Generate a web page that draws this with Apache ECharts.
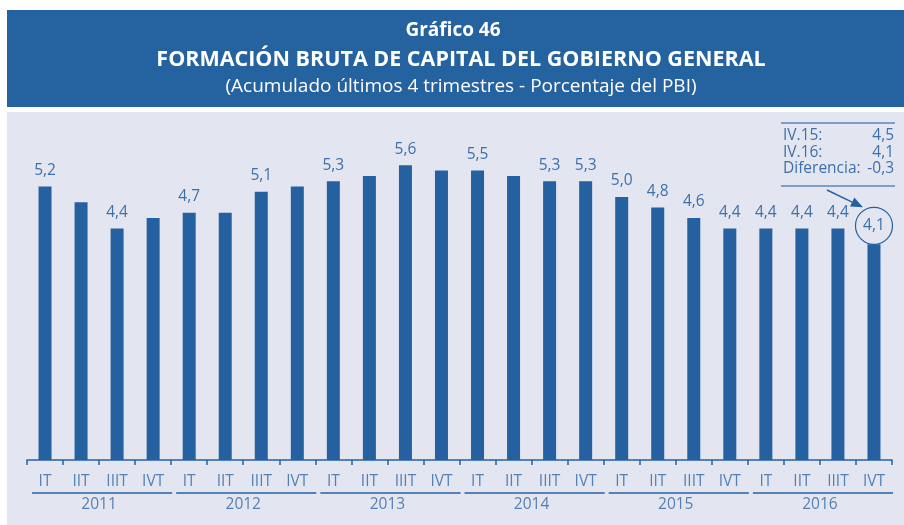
<!DOCTYPE html>
<html>
<head>
<meta charset="utf-8">
<script src="https://cdn.jsdelivr.net/npm/echarts@6/dist/echarts.min.js"></script>
<style>
  html, body { margin: 0; padding: 0; background: #ffffff; }
  #chart { width: 904px; height: 525px; }
</style>
</head>
<body>
<div id="chart"></div>
<script>
// Formación bruta de capital del gobierno general, % del PBI (acumulado 4 trimestres)
const years = ['2011', '2012', '2013', '2014', '2015', '2016'];
const quarters = ['IT', 'IIT', 'IIIT', 'IVT'];
const values = [
  5.2, 4.9, 4.4, 4.6,
  4.7, 4.7, 5.1, 5.2,
  5.3, 5.4, 5.6, 5.5,
  5.5, 5.4, 5.3, 5.3,
  5.0, 4.8, 4.6, 4.4,
  4.4, 4.4, 4.4, 4.1
];
// which bars carry a value label
const labelled = [
  1, 0, 1, 0,
  1, 0, 1, 0,
  1, 0, 1, 0,
  1, 0, 1, 1,
  1, 1, 1, 1,
  1, 1, 1, 1
];
const noteRows = [['IV.15:', '4,5'], ['IV.16:', '4,1'], ['Diferencia:', '-0,3']];

const BLUE = '#2561a0';
const TEXT = '#3d70aa';
const AXISTXT = '#5580b5';
const FONT = '"Open Sans", "Noto Sans", sans-serif';

const categories = [];
years.forEach(y => quarters.forEach(q => categories.push(q)));
const last = values.length - 1;
const fmt = v => v.toFixed(1).replace('.', ',');

const chart = echarts.init(document.getElementById('chart'), null, { renderer: 'canvas' });

const barData = values.map((v, i) => {
  const item = { value: v };
  if (!labelled[i]) {
    item.label = { show: false };
  } else if (i === last) {
    item.label = {
      show: true,
      width: 37, height: 37, padding: 0,
      lineHeight: 37,
      borderRadius: 18.5,
      borderWidth: 1.2,
      borderColor: BLUE,
      distance: 0,
      align: 'center'
    };
  }
  return item;
});

chart.setOption({
  backgroundColor: '#ffffff',
  animation: false,
  graphic: [
    { type: 'rect', shape: { x: 7, y: 10, width: 897, height: 97 }, style: { fill: '#2562a0' }, z: -10 },
    { type: 'rect', shape: { x: 7, y: 112, width: 897, height: 413 }, style: { fill: '#e3e6f1' }, z: -10 },
    { type: 'text', x: 453, y: 31, style: { text: 'Gráfico 46', fill: '#ffffff', font: 'bold 19px ' + FONT, align: 'center', verticalAlign: 'middle' } },
    { type: 'text', x: 461, y: 60, style: { text: 'FORMACIÓN BRUTA DE CAPITAL DEL GOBIERNO GENERAL', fill: '#ffffff', font: 'bold 21.5px ' + FONT, align: 'center', verticalAlign: 'middle' } },
    { type: 'text', x: 461, y: 87, style: { text: '(Acumulado últimos 4 trimestres - Porcentaje del PBI)', fill: '#ffffff', font: '19px ' + FONT, align: 'center', verticalAlign: 'middle' } }
  ],
  grid: { left: 27, right: 12, top: 118, bottom: 65, containLabel: false },
  xAxis: [
    {
      type: 'category',
      data: categories,
      position: 'bottom',
      axisLine: { show: true, lineStyle: { color: BLUE, width: 1.5 } },
      axisTick: { show: true, length: 5, lineStyle: { color: BLUE, width: 1.5 } },
      axisLabel: { color: AXISTXT, fontFamily: FONT, fontSize: 15.5, margin: 14 }
    },
    {
      type: 'category',
      data: years,
      position: 'bottom',
      offset: 37,
      axisLine: { show: false },
      axisTick: { show: false },
      axisLabel: { color: AXISTXT, fontFamily: FONT, fontSize: 15.5, margin: 0 }
    }
  ],
  yAxis: { type: 'value', min: 0, max: 6.5, show: false, splitLine: { show: false } },
  series: [{
    type: 'bar',
    data: barData,
    barWidth: 13,
    itemStyle: { color: BLUE },
    label: {
      show: true,
      position: 'top',
      distance: 8,
      color: TEXT,
      fontFamily: FONT,
      fontSize: 15.5,
      formatter: p => fmt(p.value)
    }
  }]
});

// year brackets, note box and arrow placed from the axis scale
const px = (i, v) => chart.convertToPixel({ xAxisIndex: 0, yAxisIndex: 0 }, [i, v]);
const band = px(1, 0)[0] - px(0, 0)[0];
const extra = [];
years.forEach((y, g) => {
  const x0 = px(g * 4, 0)[0] - band / 2;
  const x1 = px(g * 4 + 3, 0)[0] + band / 2;
  extra.push({ type: 'line', shape: { x1: x0 + 5, y1: 493, x2: x1 + 1, y2: 493 }, style: { stroke: BLUE, lineWidth: 1.5 } });
});
const noteL = 781, noteR = 895, noteTop = 123;
extra.push({ type: 'line', shape: { x1: noteL, y1: noteTop, x2: noteR, y2: noteTop }, style: { stroke: '#5a86b8', lineWidth: 1.5 } });
noteRows.forEach((r, k) => {
  const y = noteTop + 13 + k * 16.5;
  extra.push({ type: 'text', x: noteL + 2, y: y, style: { text: r[0], fill: TEXT, font: '15.5px ' + FONT, align: 'left', verticalAlign: 'middle' } });
  extra.push({ type: 'text', x: noteR - 1, y: y, style: { text: r[1], fill: TEXT, font: '15.5px ' + FONT, align: 'right', verticalAlign: 'middle' } });
});
extra.push({ type: 'line', shape: { x1: noteL, y1: noteTop + 63, x2: noteR, y2: noteTop + 63 }, style: { stroke: '#5a86b8', lineWidth: 1.5 } });

const tip = px(last, values[last]);
const ax = tip[0] - 11, ay = tip[1] - 37;
const sx = 827, sy = 190;
const ang = Math.atan2(ay - sy, ax - sx);
const hl = 12, hw = 5;
const bx = ax - hl * Math.cos(ang), by = ay - hl * Math.sin(ang);
extra.push({ type: 'line', shape: { x1: sx, y1: sy, x2: bx, y2: by }, style: { stroke: BLUE, lineWidth: 1.5 } });
extra.push({ type: 'polygon', shape: { points: [
  [ax, ay],
  [bx + hw * Math.sin(ang), by - hw * Math.cos(ang)],
  [bx - hw * Math.sin(ang), by + hw * Math.cos(ang)]
] }, style: { fill: BLUE } });

const opt = chart.getOption();
chart.setOption({ graphic: opt.graphic[0].elements.concat(extra) }, { replaceMerge: [] });
</script>
</body>
</html>
